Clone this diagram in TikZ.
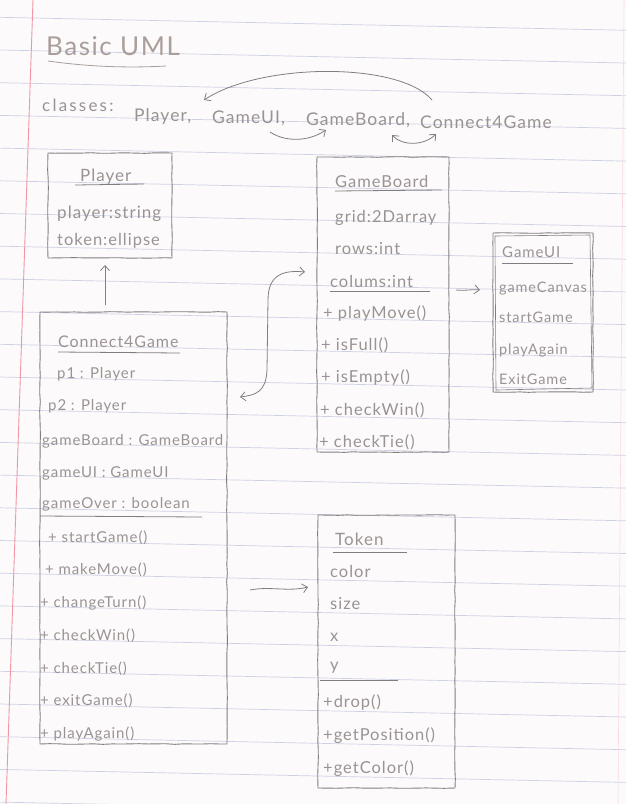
\documentclass[tikz,border=0pt]{standalone}
\usepackage{fontspec}
\setmainfont{Lato}[LetterSpace=6]
\usetikzlibrary{arrows.meta,decorations.pathmorphing}
\definecolor{paper}{RGB}{252,250,250}
\definecolor{ruling}{RGB}{206,209,229}
\definecolor{margin}{RGB}{240,150,165}
\definecolor{pencil}{RGB}{128,126,126}
\definecolor{ink}{RGB}{155,147,147}
\definecolor{titleink}{RGB}{170,158,154}
\begin{document}
\begin{tikzpicture}[x=1pt,y=-1pt,
  box/.style={draw=pencil, line width=0.9pt, anchor=north west, inner sep=0pt, outer sep=0pt,
    decorate, decoration={random steps, segment length=9pt, amplitude=0.35pt}},
  txt/.style={anchor=base west, inner sep=0pt, text=ink, font=\fontsize{15}{15}\selectfont},
  bigtxt/.style={txt, font=\fontsize{16.5}{16.5}\selectfont},
  smalltxt/.style={txt, font=\fontsize{14.5}{14.5}\selectfont},
  word/.style={txt, font=\fontsize{17.5}{17.5}\selectfont},
  uline/.style={draw=pencil, line width=0.8pt},
  arr/.style={draw=pencil, line width=0.8pt, -{Straight Barb[length=5pt,width=9pt]}},
  dblarr/.style={draw=pencil, line width=0.8pt, {Straight Barb[length=5pt,width=9pt]}-{Straight Barb[length=5pt,width=9pt]}}]

% notebook paper
\fill[paper] (0,0) rectangle (626,804);
\useasboundingbox (0,0) rectangle (626,804);
\foreach \k in {-1,...,23}
  \draw[ruling, line width=0.7pt] (0,{50+32.7*\k}) -- (626,{63+32.7*\k});
\draw[margin, line width=0.9pt] (33,0) -- (6,804);
\draw[margin!35, line width=0.6pt] (624,0) -- (618,804);

% heading
\node[anchor=base west, inner sep=0pt, text=titleink, font=\fontsize{26}{26}\selectfont] (title) at (46,55) {Basic UML};
\draw[uline, draw=titleink] (48,61) .. controls (90,67) and (130,68) .. (166,66);

% list of classes
\node[word, font=\fontsize{17}{17}\selectfont\addfontfeatures{LetterSpace=13}] (wc) at (42,111) {classes:};
\node[word] (w1) at (134,121) {Player,};
\node[word] (w2) at (212,123) {GameUI,};
\node[word] (w3) at (306,125) {GameBoard,};
\node[word] (w4) at (420,128) {Connect4Game};

\draw[arr] ([xshift=12pt,yshift=28pt]w4.base west) .. controls (400,62) and (262,62) .. ([xshift=70pt,yshift=21pt]w1.base west);
\draw[arr] ([xshift=58pt,yshift=-9pt]w2.base west) .. controls (285,142) and (308,142) .. ([xshift=20pt,yshift=-5pt]w3.base west);
\draw[dblarr] ([xshift=86pt,yshift=-10pt]w3.base west) .. controls (402,146) and (424,146) .. ([xshift=16pt,yshift=-6pt]w4.base west);

% Player
\node[box, minimum width=124pt, minimum height=105pt] (player) at (48,153) {};
\node[txt, font=\fontsize{17}{17}\selectfont] (ptitle) at (80,181) {Player};
\draw[uline] (75,185) -- (144,184);
\node[bigtxt, font=\fontsize{17}{17}\selectfont] (p1) at (57,218) {player:string};
\node[bigtxt] (p2) at (57,245) {token:ellipse};

% Connect4Game
\node[box, minimum width=187pt, minimum height=432pt] (c4g) at (40,312) {};
\node[txt, font=\fontsize{16}{16}\selectfont] (ctitle) at (58,347) {Connect4Game};
\draw[uline] (58,352) -- (180,353);
\node[txt] (c1) at (57,378) {p1 : Player};
\node[txt] (c2) at (48,410) {p2 : Player};
\node[txt] (c3) at (42,445) {gameBoard : GameBoard};
\node[txt] (c4) at (42,477) {gameUI : GameUI};
\node[txt] (c5) at (42,508) {gameOver : boolean};
\draw[uline] (40,516) -- (202,517);
\node[txt] (c6) at (48,542) {+ startGame()};
\node[txt] (c7) at (45,574) {+ makeMove()};
\node[txt] (c8) at (40,607) {+ changeTurn()};
\node[txt] (c9) at (40,640) {+ checkWin()};
\node[txt] (c10) at (40,673) {+ checkTie()};
\node[txt] (c11) at (40,705) {+ exitGame()};
\node[txt] (c12) at (40,738) {+ playAgain()};

% GameBoard
\node[box, minimum width=132pt, minimum height=295pt] (gb) at (317,157) {};
\node[bigtxt] (gtitle) at (335,187) {GameBoard};
\draw[uline] (335,191) -- (442,190);
\node[bigtxt] (g1) at (335,222) {grid:2Darray};
\node[bigtxt] (g2) at (335,254) {rows:int};
\node[bigtxt] (g3) at (330,287) {colums:int};
\draw[uline] (330,291) -- (430,291);
\node[bigtxt] (g4) at (323,318) {+ playMove()};
\node[bigtxt] (g5) at (321,350) {+ isFull()};
\node[bigtxt] (g6) at (321,382) {+ isEmpty()};
\node[bigtxt] (g7) at (320,415) {+ checkWin()};
\node[bigtxt] (g8) at (319,447) {+ checkTie()};

% GameUI (traced twice)
\node[box, minimum width=100pt, minimum height=159pt] (ui) at (493,233) {};
\draw[pencil, line width=0.6pt] (495,236) -- (590,235) -- (592,388) -- (496,390) -- cycle;
\node[smalltxt, font=\fontsize{15}{15}\selectfont] (utitle) at (502,257) {GameUI};
\draw[uline] (502,263) -- (573,263);
\node[smalltxt] (u1) at (499,292) {gameCanvas};
\node[smalltxt] (u2) at (499,322) {startGame};
\node[smalltxt] (u3) at (499,354) {playAgain};
\node[smalltxt] (u4) at (499,384) {ExitGame};

% Token
\node[box, minimum width=137pt, minimum height=273pt] (token) at (318,515) {};
\node[bigtxt, font=\fontsize{17}{17}\selectfont] (ttitle) at (335,545) {Token};
\draw[uline] (333,552) -- (407,552);
\node[bigtxt] (t1) at (330,577) {color};
\node[bigtxt] (t2) at (330,609) {size};
\node[bigtxt] (t3) at (330,641) {x};
\node[bigtxt] (t4) at (330,670) {y};
\draw[uline] (320,680) -- (398,680);
\node[bigtxt] (t5) at (323,707) {+drop()};
\node[bigtxt] (t6) at (323,740) {+getPosition()};
\node[bigtxt] (t7) at (323,773) {+getColor()};

% relations
\draw[arr] ([xshift=65pt,yshift=7pt]c4g.north west) -- ([xshift=57pt,yshift=-7pt]player.south west);
\draw[dblarr] ([xshift=-12pt,yshift=-115pt]gb.north west)
  .. controls (284,270) and (268,274) .. (268,300) -- (267,370)
  .. controls (266,392) and (256,395) .. ([xshift=13pt,yshift=-85pt]c4g.north east);
\draw[arr] ([xshift=7pt,yshift=-133pt]gb.north east) .. controls (466,291) and (472,289) .. ([xshift=-13pt,yshift=-57pt]ui.north west);
\draw[arr] ([xshift=23pt,yshift=-278pt]c4g.north east) .. controls (270,586) and (288,592) .. ([xshift=-10pt,yshift=-72pt]token.north west);
\end{tikzpicture}
\end{document}
